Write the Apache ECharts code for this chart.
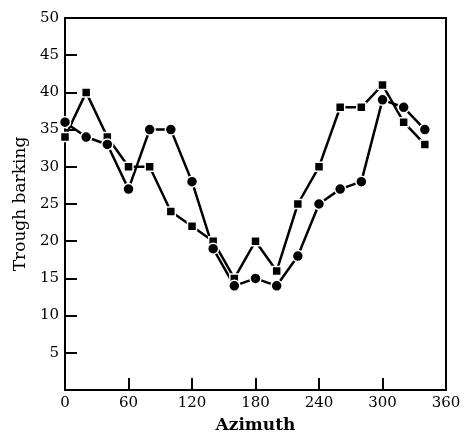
<!DOCTYPE html>
<html>
<head>
<meta charset="utf-8">
<script src="https://cdn.jsdelivr.net/npm/echarts@6/dist/echarts.min.js"></script>
<style>html,body{margin:0;padding:0;background:#fff;}#c{width:464px;height:439px;}</style>
</head>
<body>
<div id="c"></div>
<script>
var azimuth = [0, 20, 40, 60, 80, 100, 120, 140, 160, 180, 200, 220, 240, 260, 280, 300, 320, 340];
var squares = [34, 40, 34, 30, 30, 24, 22, 20, 15, 20, 16, 25, 30, 38, 38, 41, 36, 33];
var circles = [36, 34, 33, 27, 35, 35, 28, 19, 14, 15, 14, 18, 25, 27, 28, 39, 38, 35];
var xTicks = [0, 60, 120, 180, 240, 300, 360];
var yTicks = [0, 5, 10, 15, 20, 25, 30, 35, 40, 45, 50];

function pairs(ys) { return azimuth.map(function (a, i) { return [a, ys[i]]; }); }

var font = 'DejaVu Serif';
var chart = echarts.init(document.getElementById('c'), null, {renderer: 'canvas'});
chart.setOption({
  animation: false,
  backgroundColor: '#fff',
  grid: {left: 65, right: 18, top: 18, bottom: 44, show: true, borderColor: '#000', borderWidth: 2},
  xAxis: {
    type: 'value', min: xTicks[0], max: xTicks[xTicks.length - 1], interval: 60,
    name: 'Azimuth', nameLocation: 'middle', nameGap: 27,
    nameTextStyle: {fontFamily: font, fontSize: 17, fontWeight: 'bold', color: '#000'},
    axisLine: {show: true, lineStyle: {color: '#000', width: 2}},
    axisTick: {show: true, inside: true, length: 12, lineStyle: {color: '#000', width: 2}},
    axisLabel: {fontFamily: font, fontSize: 15, color: '#000', margin: 6},
    splitLine: {show: false}
  },
  yAxis: {
    type: 'value', min: yTicks[0], max: yTicks[yTicks.length - 1], interval: 5,
    name: 'Trough barking', nameLocation: 'middle', nameGap: 34,
    nameTextStyle: {fontFamily: font, fontSize: 17, color: '#000'},
    axisLine: {show: true, lineStyle: {color: '#000', width: 2}},
    axisTick: {show: true, inside: true, length: 12, lineStyle: {color: '#000', width: 2}},
    axisLabel: {fontFamily: font, fontSize: 15, color: '#000', margin: 6, showMinLabel: false},
    splitLine: {show: false}
  },
  series: [
    {
      type: 'line', data: pairs(squares), symbol: 'rect', symbolSize: 9,
      lineStyle: {color: '#000', width: 2.5},
      itemStyle: {color: '#000', borderColor: '#fff', borderWidth: 1.5}
    },
    {
      type: 'line', data: pairs(circles), symbol: 'circle', symbolSize: 11,
      lineStyle: {color: '#000', width: 2.5},
      itemStyle: {color: '#000', borderColor: '#fff', borderWidth: 1.5}
    }
  ]
});
</script>
</body>
</html>
